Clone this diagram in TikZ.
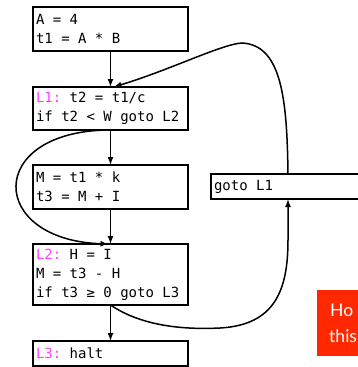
\documentclass[tikz,border=0pt]{standalone}
\usepackage{fontspec}
\newfontfamily\codefont{DejaVu Sans Mono}
\newfontfamily\notefont{Lato}
\usetikzlibrary{arrows.meta,calc}
\definecolor{lbl}{RGB}{255,64,255}
\definecolor{notered}{RGB}{255,40,0}
\newcommand{\lab}[1]{\textcolor{lbl}{#1}}
% one monospaced blank, the width of a DejaVu Sans Mono glyph
\newcommand{\ws}{\hbox to 0.60205em{}}
\begin{document}
\begin{tikzpicture}[x=1pt,y=-1pt,
  blk/.style={draw, line width=2pt, rectangle, anchor=north west, outer sep=0pt,
    inner xsep=3pt, inner ysep=0pt, align=left, text width=149pt,
    font=\codefont\fontsize{14}{19}\selectfont},
  arr/.style={line width=1.5pt, -{Latex[length=8pt,width=6pt]}},
  notebox/.style={fill=notered, anchor=north west, inner sep=0pt, outer sep=0pt},
  notetext/.style={text=white, anchor=base west, inner sep=0pt,
    font=\notefont\fontsize{17.5}{20}\selectfont}]
\useasboundingbox (0,0) rectangle (358,367);
\clip (0,0) rectangle (358,367);
\fill[white] (0,0) rectangle (358,367);

% basic blocks
\node[blk, minimum height=44pt] (b1) at (33,7)
  {A\ws=\ws4\\t1\ws=\ws A\ws*\ws B};
\node[blk, minimum height=43pt] (b2) at (33,87)
  {\lab{L1:}\ws t2\ws=\ws t1/c\\if\ws t2\ws<\ws W\ws goto\ws L2};
\node[blk, minimum height=44pt] (b3) at (33,165)
  {M\ws=\ws t1\ws*\ws k\\t3\ws=\ws M\ws+\ws I};
\node[blk, minimum height=61pt] (b4) at (33,244)
  {\lab{L2:}\ws H\ws=\ws I\\M\ws=\ws t3\ws-\ws H\\if\ws t3\ws≥\ws 0\ws goto\ws L3};
\node[blk, minimum height=25pt] (b5) at (33,341) {\lab{L3:}\ws halt};
\node[blk, minimum height=25pt, text width=163pt] (g) at (211,174) {goto\ws L1};

% ports on the goto block
\coordinate (gin) at ($(g.south west)+(77,0)$);
\coordinate (gout) at ($(g.north west)+(77,0)$);

% fall-through edges
\draw[arr] (b1.south) -- (b2.north);
\draw[arr] (b2.south) -- (b3.north);
\draw[arr] (b3.south) -- (b4.north);
\draw[arr] (b4.south) -- (b5.north);

% branch to L2
\draw[arr] ($(b2.south)+(-3,0)$) .. controls (-15,132) and (-12,240) .. ($(b4.north)+(-2,0)$);

% branch to L3 block
\draw[arr] (b4.south) .. controls (140,325) and (180,330) .. (220,328)
  .. controls (275,325) and (288,290) .. (288,240) -- (gin);

% jump back to L1
\draw[arr] (gout) .. controls (287,100) and (282,45) .. (242,43)
  .. controls (222,44) and (170,70) .. ($(b2.north)+(3,0)$);

% overlay note
\node[notebox, minimum width=60pt, minimum height=66pt] (note) at (317,290) {};
\node[notetext] (n1) at (330,316) {Ho};
\node[notetext] (n2) at (329,342) {this};
\end{tikzpicture}
\end{document}
